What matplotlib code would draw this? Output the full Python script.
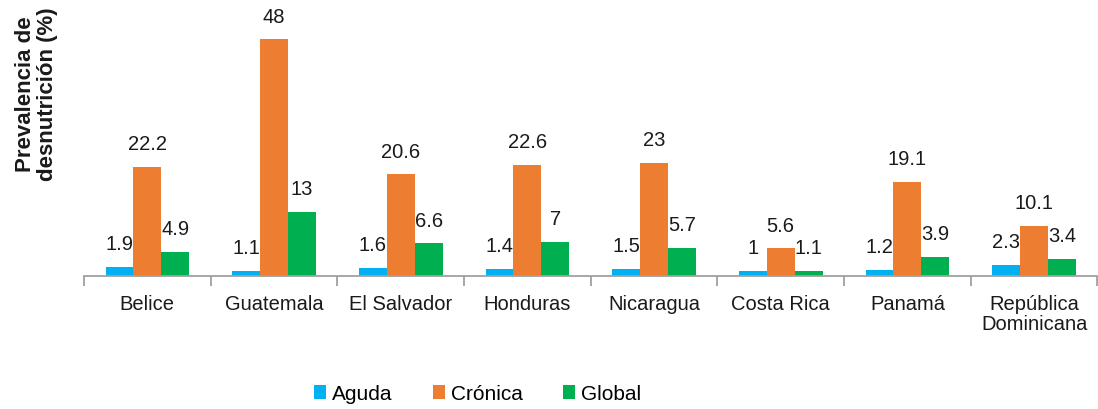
import matplotlib.pyplot as plt
import numpy as np

plt.rcParams['font.family'] = ['Liberation Sans', 'DejaVu Sans']

paises = ['Belice', 'Guatemala', 'El Salvador', 'Honduras', 'Nicaragua',
          'Costa Rica', 'Panamá', 'República\nDominicana']
aguda = [1.9, 1.1, 1.6, 1.4, 1.5, 1, 1.2, 2.3]
cronica = [22.2, 48, 20.6, 22.6, 23, 5.6, 19.1, 10.1]
global_ = [4.9, 13, 6.6, 7, 5.7, 1.1, 3.9, 3.4]

series = [('Aguda', aguda, '#00B0F0'),
          ('Crónica', cronica, '#ED7D31'),
          ('Global', global_, '#00B050')]

fig = plt.figure(figsize=(10.98, 4.10), dpi=100)
ax = fig.add_axes([0.0765, 0.3244, 0.923, 0.625])

x = np.arange(len(paises))
w = 0.22
for i, (name, vals, color) in enumerate(series):
    pos = x + (i - 1) * w
    ax.bar(pos, vals, w, color=color, label=name)
    for p, v in zip(pos, vals):
        ax.annotate('%g' % v, (p, v), xytext=(0, 10), textcoords='offset points',
                    ha='center', va='bottom', fontsize=14.5, color='#1a1a1a')

ax.set_xlim(-0.5, len(paises) - 0.5)
ax.set_ylim(0, 52)
ax.set_yticks([])
for s in ['left', 'right', 'top']:
    ax.spines[s].set_visible(False)
ax.spines['bottom'].set_color('#a0a0a0')
ax.spines['bottom'].set_linewidth(1.3)

ax.set_xticks(x)
ax.set_xticklabels(paises, fontsize=14.5, color='#1a1a1a', linespacing=1.05)
ax.tick_params(axis='x', which='major', length=0, pad=13)
ax.set_xticks(np.arange(len(paises) + 1) - 0.5, minor=True)
ax.tick_params(axis='x', which='minor', length=7, color='#a0a0a0', width=1.3)

fig.text(0.033, 0.77, 'Prevalencia de\ndesnutrición (%)', rotation=90,
         ha='center', va='center', fontsize=16, fontweight='bold',
         color='#1a1a1a', linespacing=1.05)

fig.legend(loc='center', bbox_to_anchor=(0.435, 0.037), ncol=3, frameon=False,
           fontsize=15, handlelength=0.6, handleheight=0.6,
           handletextpad=0.3, columnspacing=1.9)

plt.savefig('out.png')
plt.close()
